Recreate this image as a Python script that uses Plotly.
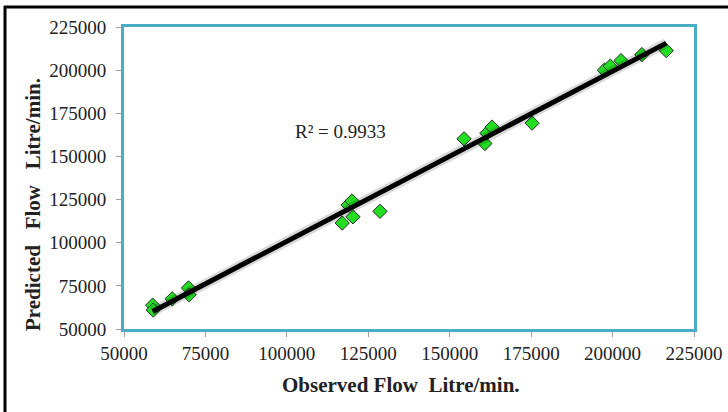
import numpy as np
import plotly.graph_objects as go

# Data
observed = [58800, 59000, 64800, 69800, 70000, 117000, 118800, 120000, 120300, 128600,
            154400, 160800, 161400, 163000, 175300, 197500, 199300, 202600, 209000, 216500]
predicted = [63800, 61000, 67500, 73800, 69800, 111400, 121800, 124200, 115000, 118200,
             160200, 157500, 163500, 167000, 169300, 200000, 202300, 205500, 209000, 211300]
tick_vals = [50000, 75000, 100000, 125000, 150000, 175000, 200000, 225000]
r2_label = "R² = 0.9933"
x_title = "Observed Flow  Litre/min."
y_title = "Predicted   Flow   Litre/min."

# Linear trendline (least squares)
slope, intercept = np.polyfit(observed, predicted, 1)
trend_x = [min(observed), max(observed)]
trend_y = [slope * v + intercept for v in trend_x]

FONT = "Liberation Serif, Times New Roman, serif"
FRAME = "#4bacc6"

fig = go.Figure()
fig.add_trace(go.Scatter(
    x=observed, y=predicted, mode="markers",
    marker=dict(symbol="diamond", size=11, color="#22dd22",
                line=dict(color="#2a2a2a", width=1)),
    showlegend=False, hoverinfo="skip"))
# soft shadow under trendline
fig.add_trace(go.Scatter(
    x=trend_x, y=trend_y, mode="lines",
    line=dict(color="rgba(0,0,0,0.15)", width=10),
    showlegend=False, hoverinfo="skip"))
fig.add_trace(go.Scatter(
    x=trend_x, y=trend_y, mode="lines",
    line=dict(color="#000000", width=5),
    showlegend=False, hoverinfo="skip"))

axis_common = dict(
    range=[50000, 225000], tickvals=tick_vals, tickformat="d",
    showgrid=False, zeroline=False,
    showline=True, linecolor=FRAME, linewidth=3, mirror=True,
    ticks="outside", ticklen=5, tickcolor="#a0a0a0", tickwidth=1,
    tickfont=dict(family=FONT, size=19, color="#222222"),
)
fig.update_xaxes(**axis_common)
fig.update_yaxes(**axis_common, ticklabelstandoff=6)

# Pixel helpers for paper coordinates (plot area: x 124..694, y 27..329)
def px(x):
    return (x - 124) / 570.0

def py(y):
    return (329 - y) / 302.0

fig.update_layout(
    width=728, height=412,
    margin=dict(l=124, r=34, t=27, b=83, autoexpand=False),
    paper_bgcolor="white", plot_bgcolor="white",
    annotations=[
        dict(text=r2_label, xref="paper", yref="paper", x=px(340), y=py(131),
             xanchor="center", yanchor="middle",
             showarrow=False, font=dict(family=FONT, size=19, color="#222222")),
        dict(text="<b>" + x_title.replace("  ", "&nbsp;&nbsp;") + "</b>",
             xref="paper", yref="paper", x=px(401), y=py(385),
             xanchor="center", yanchor="middle",
             showarrow=False, font=dict(family=FONT, size=21, color="#222222")),
        dict(text="<b>" + y_title.replace("   ", "&nbsp;&nbsp;&nbsp;") + "</b>",
             xref="paper", yref="paper", x=px(33), y=py(205), textangle=-90,
             xanchor="center", yanchor="middle",
             showarrow=False, font=dict(family=FONT, size=21, color="#222222")),
    ],
    shapes=[
        dict(type="line", xref="paper", yref="paper",
             x0=px(4), x1=px(728), y0=py(7), y1=py(7),
             line=dict(color="black", width=3)),
        dict(type="line", xref="paper", yref="paper",
             x0=px(5), x1=px(5), y0=py(6), y1=py(412),
             line=dict(color="black", width=3)),
    ],
)

fig.write_html("out.html", config={"displayModeBar": False},
               post_script="document.body.style.margin='0';document.body.style.overflow='hidden';")
